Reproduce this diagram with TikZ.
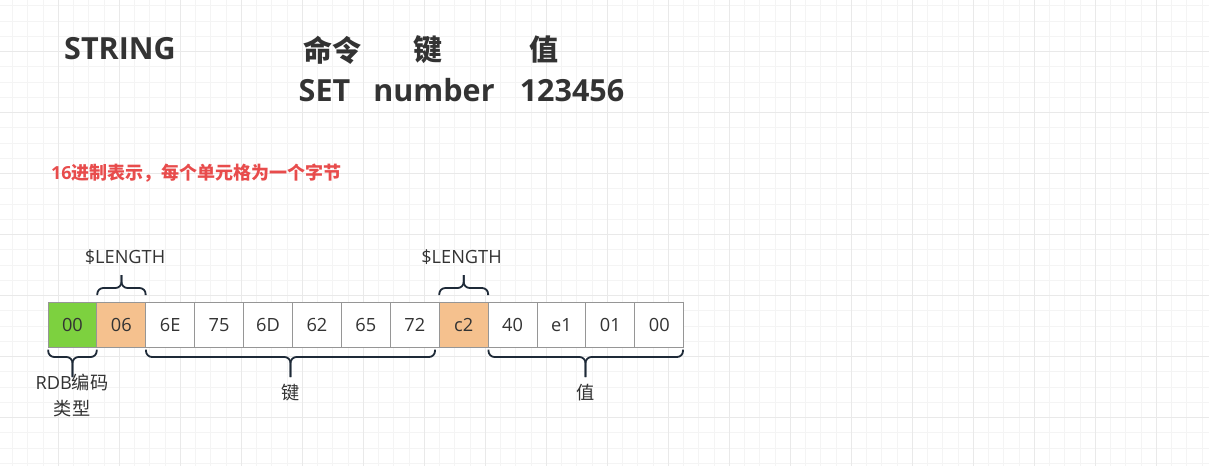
\documentclass[tikz,border=0pt]{standalone}
\usepackage{fontspec}
\setmainfont{Open Sans}
\newfontfamily\cjk{Noto Sans CJK SC}
\definecolor{txt}{HTML}{333333}
\definecolor{gridminor}{HTML}{F4F4F4}
\definecolor{gridmajor}{HTML}{E9E9E9}
\definecolor{cellgreen}{HTML}{7DD13F}
\definecolor{cellorange}{HTML}{F5C18E}
\definecolor{cellborder}{HTML}{969696}
\definecolor{bracecol}{HTML}{1E2A38}
\definecolor{notered}{HTML}{E84C4C}
\tikzset{
  cell/.style={draw=cellborder, line width=1pt, minimum width=48.9pt, minimum height=45pt,
    inner sep=0pt, text=txt, font=\fontsize{18.2}{20}\selectfont, text height=13pt, text depth=0pt},
  bigtxt/.style={text=txt, font=\fontsize{30.5}{34}\selectfont\bfseries, inner sep=0pt},
  bigcjk/.style={text=txt, font=\fontsize{29}{34}\selectfont\cjk\bfseries, inner sep=0pt},
  lbl/.style={text=txt, font=\fontsize{18.2}{26}\selectfont, inner sep=0pt, align=center},
  brc/.style={draw=bracecol, line width=1.8pt, rounded corners=6pt},
}
\begin{document}
\begin{tikzpicture}[x={(1pt,0)}, y={(0,-1pt)}]
\useasboundingbox (0,0) rectangle (1209,466);
\fill[white] (0,0) rectangle (1209,466);
% grid
\foreach \k in {0,...,80} {\draw[gridminor, line width=1pt] ({-2.7+15.25*\k},0) -- ({-2.7+15.25*\k},466);}
\foreach \k in {0,...,31} {\draw[gridminor, line width=1pt] (0,{-9.3+15.25*\k}) -- (1209,{-9.3+15.25*\k});}
\foreach \k in {0,...,20} {\draw[gridmajor, line width=1pt] ({-2.7+61*\k},0) -- ({-2.7+61*\k},466);}
\foreach \k in {0,...,8} {\draw[gridmajor, line width=1pt] (0,{-9.3+61*\k}) -- (1209,{-9.3+61*\k});}

% headings
\node[bigtxt, anchor=base] (title) at (120,59.3) {STRING};
\node[bigcjk] (hcmd) at (332.5,50) {命令};
\node[bigcjk] (hkey) at (427.5,50) {键};
\node[bigcjk] (hval) at (543.5,50) {值};
\node[bigtxt, anchor=base] (set) at (324.5,101.7) {SET};
\node[bigtxt, anchor=base] (num) at (434,101.7) {number};
\node[bigtxt, anchor=base] (val) at (572,101.7) {123456};

\node[anchor=west, inner sep=0pt, text=notered, font=\fontsize{18}{20}\selectfont\bfseries] (note) at (51,173)
  {16{\cjk\bfseries 进制表示，每个单元格为一个字节}};

% cells
\foreach \t/\f [count=\i] in {00/cellgreen,06/cellorange,6E/white,75/white,6D/white,62/white,65/white,72/white,c2/cellorange,40/white,e1/white,01/white,00/white} {
  \node[cell, fill=\f] (c\i) at ({48+48.9*(\i-1)+24.45},325.2) {\t};
}

% top braces
\draw[brc] (97.3,295) -- (97.3,288) -- (121.5,288) -- (121.5,275);
\draw[brc] (145.6,295) -- (145.6,288) -- (121.5,288) -- (121.5,275);
\draw[brc] (439.3,295) -- (439.3,288) -- (463.7,288) -- (463.7,275);
\draw[brc] (488.1,295) -- (488.1,288) -- (463.7,288) -- (463.7,275);
\node[lbl] (len1) at (125,257) {\$LENGTH};
\node[lbl] (len2) at (461.5,257) {\$LENGTH};

% bottom braces
\draw[brc] (48.2,349.5) -- (48.2,357) -- (72.5,357) -- (72.5,377);
\draw[brc] (96.7,349.5) -- (96.7,357) -- (72.5,357) -- (72.5,377);
\draw[brc] (146,349.5) -- (146,357) -- (290.5,357) -- (290.5,377);
\draw[brc] (435,349.5) -- (435,357) -- (290.5,357) -- (290.5,377);
\draw[brc] (488.5,349.5) -- (488.5,357) -- (585.5,357) -- (585.5,377);
\draw[brc] (683,349.5) -- (683,357) -- (585.5,357) -- (585.5,377);

\node[lbl] (rdb) at (72,396) {RDB{\cjk 编码}\\{\cjk 类型}};
\node[lbl] (lkey) at (290.5,393) {\cjk 键};
\node[lbl] (lval) at (585.5,393) {\cjk 值};
\end{tikzpicture}
\end{document}
